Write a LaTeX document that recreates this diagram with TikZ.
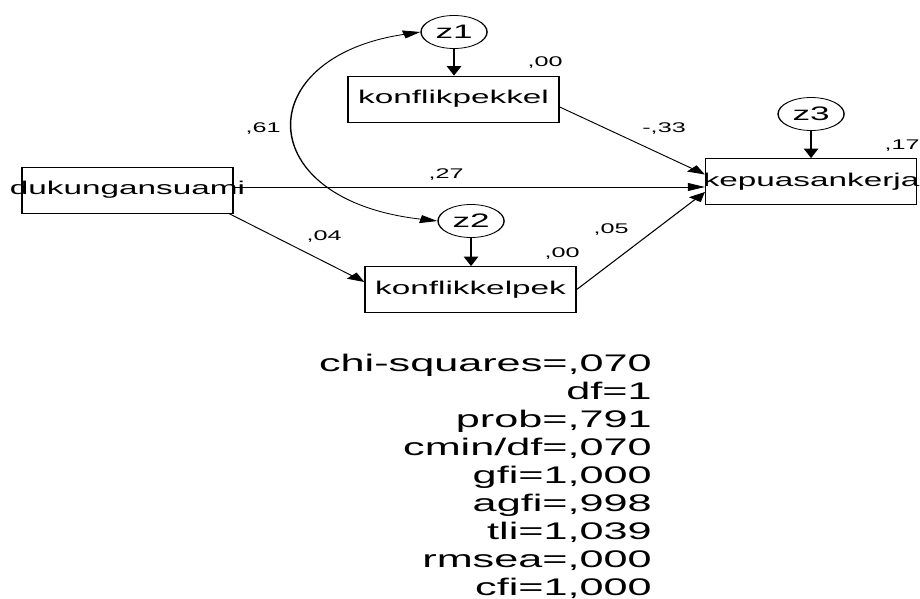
\documentclass[tikz,border=0pt]{standalone}
\usepackage{fontspec}
\setmainfont{Liberation Sans}
\usetikzlibrary{arrows.meta,shapes.geometric}
\begin{document}
\begin{tikzpicture}[x=0.5556pt, y=-1pt,
  box/.style={draw, line width=0.8pt, minimum width=117.2pt, minimum height=46pt, inner sep=0pt, font=\fontsize{18.5}{20}\selectfont},
  lat/.style={draw, ellipse, line width=0.8pt, minimum width=36.7pt, minimum height=33pt, inner sep=0pt, font=\fontsize{19.5}{21}\selectfont},
  coef/.style={inner sep=0pt, font=\fontsize{14}{15}\selectfont},
  fitline/.style={anchor=base east, inner sep=0pt, font=\fontsize{24}{26}\selectfont},
  arr/.style={-{Triangle[length=9.5pt,width=8pt]}, line width=0.8pt},
  darr/.style={{Triangle[length=9.5pt,width=8pt]}-{Triangle[length=9.5pt,width=8pt]}, line width=0.8pt}]
\useasboundingbox[fill=white] (0pt,0pt) rectangle (920pt,-599pt);
\begin{scope}[transform canvas={xscale=1.8}]
  % observed variables
  \node[box] (du)  at (127.5,190)   {\makebox[0pt]{dukungansuami}};
  \node[box] (kp)  at (453.5,99)    {\makebox[0pt]{konflikpekkel}};
  \node[box] (kk)  at (470.5,289.5) {\makebox[0pt]{konflikkelpek}};
  \node[box] (kep) at (811,181.5)   {\makebox[0pt]{kepuasankerja}};
  % residuals
  \node[lat] (z1) at (454,32)  {z1};
  \node[lat] (z2) at (471,221) {z2};
  \node[lat] (z3) at (811,114) {z3};
  % residual arrows
  \draw[arr] (z1.south) -- (z1.south |- kp.north);
  \draw[arr] (z2.south) -- (z2.south |- kk.north);
  \draw[arr] (z3.south) -- (z3.south |- kep.north);
  % paths
  \draw[arr] ([yshift=3pt]du.east) -- ([yshift=-5.5pt]kep.west);
  \draw[arr] ([yshift=-8pt]kp.east) -- ([yshift=7pt]kep.west);
  \draw[arr] (kk.east) -- ([yshift=-10.5pt]kep.west);
  \draw[arr] ([xshift=-2.8pt]du.south east) -- ([yshift=7.5pt]kk.west);
  % covariance
  \draw[darr] (z2.west) .. controls (250,200) and (250,57) .. (z1.west);
  % coefficients
  \node[coef] (c1) at (545,63)  {,00};
  \node[coef] (c2) at (263,129) {,61};
  \node[coef] (c3) at (664,129) {-,33};
  \node[coef] (c4) at (902,146) {,17};
  \node[coef] (c5) at (446,175) {,27};
  \node[coef] (c6) at (324,237) {,04};
  \node[coef] (c7) at (611,230) {,05};
  \node[coef] (c8) at (562,254) {,00};
  % fit statistics
  \node[fitline] (f1) at (652,371) {chi-squares=,070};
  \node[fitline] (f2) at (652,399) {df=1};
  \node[fitline] (f3) at (652,427) {prob=,791};
  \node[fitline] (f4) at (652,455) {cmin/df=,070};
  \node[fitline] (f5) at (652,483) {gfi=1,000};
  \node[fitline] (f6) at (652,511) {agfi=,998};
  \node[fitline] (f7) at (652,539) {tli=1,039};
  \node[fitline] (f8) at (652,567) {rmsea=,000};
  \node[fitline] (f9) at (652,595) {cfi=1,000};
\end{scope}
\end{tikzpicture}
\end{document}
